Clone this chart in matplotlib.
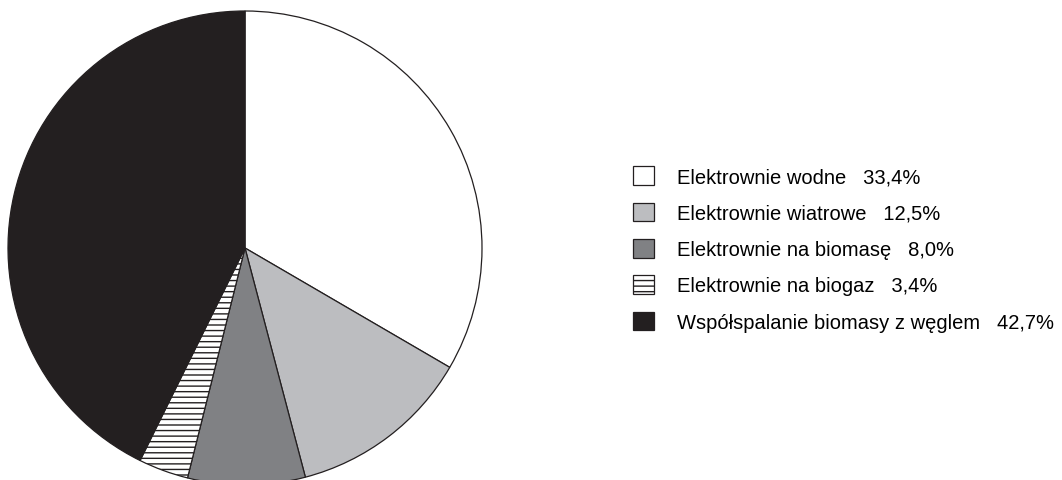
import matplotlib
matplotlib.use("Agg")
import matplotlib.pyplot as plt

names = ["Elektrownie wodne", "Elektrownie wiatrowe", "Elektrownie na biomasę",
         "Elektrownie na biogaz", "Współspalanie biomasy z węglem"]
shares = [33.4, 12.5, 8.0, 3.4, 42.7]
colors = ["#ffffff", "#bcbdc0", "#808184", "#ffffff", "#231f20"]
hatches = [None, None, None, "---", None]

plt.rcParams["font.family"] = ["Liberation Sans", "DejaVu Sans"]
plt.rcParams["hatch.linewidth"] = 1.0

fig = plt.figure(figsize=(10.62, 4.81), dpi=100)
ax = fig.add_axes([8 / 1062, -5 / 481, 474 / 1062, 474 / 481])
wedges, _ = ax.pie(shares, colors=colors, startangle=90, counterclock=False,
                   wedgeprops=dict(edgecolor="#231f20", linewidth=0.9))
for w, h in zip(wedges, hatches):
    if h:
        w.set_hatch(h)
ax.set_xlim(-1, 1)
ax.set_ylim(-1, 1)
ax.set_aspect("equal")
ax.axis("off")

# legend on the right, labels carry the shares
labels = ["{}   {}%".format(n, str(v).replace(".", ",")) for n, v in zip(names, shares)]
fig.legend(wedges, labels, loc="center left", bbox_to_anchor=(633 / 1062, 231 / 481),
           frameon=False, fontsize=14.5, handlelength=1.05, handleheight=1.05,
           labelspacing=0.8, handletextpad=1.15, borderpad=0, borderaxespad=0)

fig.savefig("out.png", dpi=100)
